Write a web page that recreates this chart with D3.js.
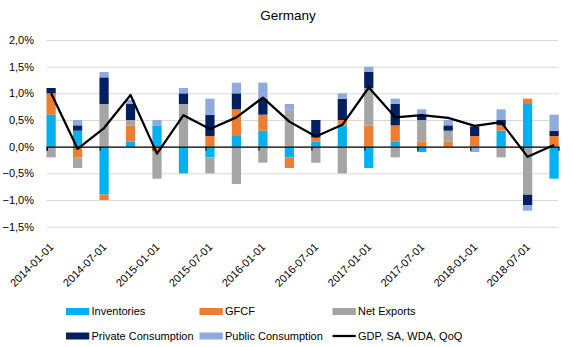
<!DOCTYPE html>
<html>
<head>
<meta charset="utf-8">
<script src="https://cdn.jsdelivr.net/npm/d3@7/dist/d3.min.js"></script>
<style>
  html, body { margin: 0; padding: 0; background: #fff; }
  svg text { font-family: "Liberation Sans", Arial, sans-serif; fill: #000; }
</style>
</head>
<body>
<div id="chart"></div>
<script>
// Quarterly contributions to German GDP growth (percentage points)
const quarters = ["2014-01-01","2014-04-01","2014-07-01","2014-10-01",
                  "2015-01-01","2015-04-01","2015-07-01","2015-10-01",
                  "2016-01-01","2016-04-01","2016-07-01","2016-10-01",
                  "2017-01-01","2017-04-01","2017-07-01","2017-10-01",
                  "2018-01-01","2018-04-01","2018-07-01","2018-10-01"];
const inventories = [0.6, 0.3, -0.9, 0.1, 0.4, -0.5, -0.2, 0.2, 0.3, -0.2, 0.1, 0.4, -0.4, 0.1, -0.1, 0, 0, 0.3, 0.8, -0.6];
const gfcf        = [0.4, -0.2, -0.1, 0.3, -0.1, 0, 0.2, 0.5, 0.3, -0.2, 0.07, 0.1, 0.4, 0.3, 0.1, 0.1, 0.2, 0.1, 0.1, 0.2];
const netExports  = [-0.2, -0.2, 0.8, 0.1, -0.5, 0.8, -0.3, -0.7, -0.3, 0.7, -0.3, -0.5, 0.7, -0.2, 0.4, 0.2, 0, -0.2, -0.9, 0];
const privateCons = [0.1, 0.1, 0.5, 0.3, 0, 0.2, 0.4, 0.3, 0.3, 0, 0.33, 0.4, 0.3, 0.4, 0.1, 0.1, 0.18, 0.1, -0.2, 0.1];
const publicCons  = [0, 0.1, 0.1, 0.08, 0.1, 0.1, 0.3, 0.2, 0.3, 0.1, 0, 0.1, 0.1, 0.1, 0.1, 0.1, -0.1, 0.2, -0.1, 0.3];
const gdp         = [1.0, -0.04, 0.35, 0.97, -0.13, 0.59, 0.33, 0.55, 0.92, 0.47, 0.19, 0.41, 1.11, 0.55, 0.59, 0.54, 0.39, 0.46, -0.19, 0.03];

const tickLabels = ["2014-01-01","2014-07-01","2015-01-01","2015-07-01","2016-01-01",
                    "2016-07-01","2017-01-01","2017-07-01","2018-01-01","2018-07-01"];
const yTicks = [-1.5, -1.0, -0.5, 0, 0.5, 1.0, 1.5, 2.0];

const seriesNames = ["Inventories", "GFCF", "Net Exports", "Private Consumption", "Public Consumption"];
const seriesData = [inventories, gfcf, netExports, privateCons, publicCons];
const colors = ["#00B0F0", "#ED7D31", "#A5A5A5", "#002060", "#8FAADC"];

const W = 573, H = 347;
const svg = d3.select("#chart").append("svg").attr("width", W).attr("height", H);

// month index since Jan 2014 -> date axis with one slot per month
const monthIdx = s => (+s.slice(0, 4) - 2014) * 12 + (+s.slice(5, 7) - 1);
const x = d3.scaleLinear().domain([0, 58]).range([46.7, 558.5]);
const y = d3.scaleLinear().domain([-1.5, 2.0]).range([226.7, 40]);
const slot = x(1) - x(0);

// title
svg.append("text").attr("x", 288).attr("y", 20).attr("text-anchor", "middle")
  .style("font-size", "13.5px").text("Germany");

// gridlines + y labels
const fmt = d => d3.format(".1f")(d).replace(".", ",") + "%";
svg.append("g").selectAll("line").data(yTicks).enter().append("line")
  .attr("x1", x(0)).attr("x2", x(58))
  .attr("y1", d => y(d) + 0.5).attr("y2", d => y(d) + 0.5)
  .attr("stroke", "#D9D9D9").attr("stroke-width", 1);
svg.append("g").selectAll("text").data(yTicks).enter().append("text")
  .attr("x", 34).attr("y", d => y(d)).attr("dy", "0.35em")
  .attr("text-anchor", "end").style("font-size", "11px")
  .text(fmt);

// stacked bars
const rows = quarters.map((q, i) => {
  const r = { q: q };
  seriesNames.forEach((n, k) => { r[n] = seriesData[k][i]; });
  return r;
});
const stacked = d3.stack().keys(seriesNames).offset(d3.stackOffsetDiverging)(rows);

svg.append("g").selectAll("g").data(stacked).enter().append("g")
  .attr("fill", (d, i) => colors[i])
  .selectAll("rect").data(d => d).enter().append("rect")
  .attr("x", d => x(monthIdx(d.data.q)) - 0.2)
  .attr("width", slot + 0.4)
  .attr("y", d => y(Math.max(d[0], d[1])))
  .attr("height", d => Math.abs(y(d[0]) - y(d[1])));

// zero axis with small ticks
const xAxis = d3.axisBottom(x)
  .tickValues(tickLabels.map(monthIdx))
  .tickSize(4).tickFormat("");
const axisG = svg.append("g").attr("transform", `translate(0,${y(0)})`).call(xAxis);
axisG.select(".domain").attr("stroke", "#000").attr("stroke-width", 1.2);
axisG.selectAll(".tick line").attr("stroke", "#000");

// date labels along the bottom
svg.append("g").selectAll("text").data(tickLabels).enter().append("text")
  .attr("transform", d => `translate(${x(monthIdx(d)) + 5},${245}) rotate(-45)`)
  .attr("text-anchor", "end").attr("dy", "0.35em")
  .style("font-size", "11px").text(d => d);

// GDP line
const line = d3.line()
  .x((d, i) => x(monthIdx(quarters[i])) + slot / 2)
  .y(d => y(d));
svg.append("path").datum(gdp).attr("d", line)
  .attr("fill", "none").attr("stroke", "#000")
  .attr("stroke-width", 2.25).attr("stroke-linejoin", "round");

// legend
const legendItems = seriesNames.map((n, i) => ({ name: n, color: colors[i], type: "bar" }))
  .concat([{ name: "GDP, SA, WDA, QoQ", color: "#000", type: "line" }]);
const legendX = [66, 199.5, 332.5];
const legendY = [311.5, 336];
const lg = svg.append("g").selectAll("g").data(legendItems).enter().append("g")
  .attr("transform", (d, i) => `translate(${legendX[i % 3]},${legendY[Math.floor(i / 3)]})`);
lg.filter(d => d.type === "bar").append("rect")
  .attr("x", 0).attr("y", -3.5).attr("width", 23.3).attr("height", 7)
  .attr("fill", d => d.color);
lg.filter(d => d.type === "line").append("line")
  .attr("x1", 0).attr("x2", 23.3).attr("y1", 0).attr("y2", 0)
  .attr("stroke", "#000").attr("stroke-width", 2.25);
lg.append("text").attr("x", 25.5).attr("y", 0).attr("dy", "0.35em")
  .style("font-size", "11px").text(d => d.name);
</script>
</body>
</html>
